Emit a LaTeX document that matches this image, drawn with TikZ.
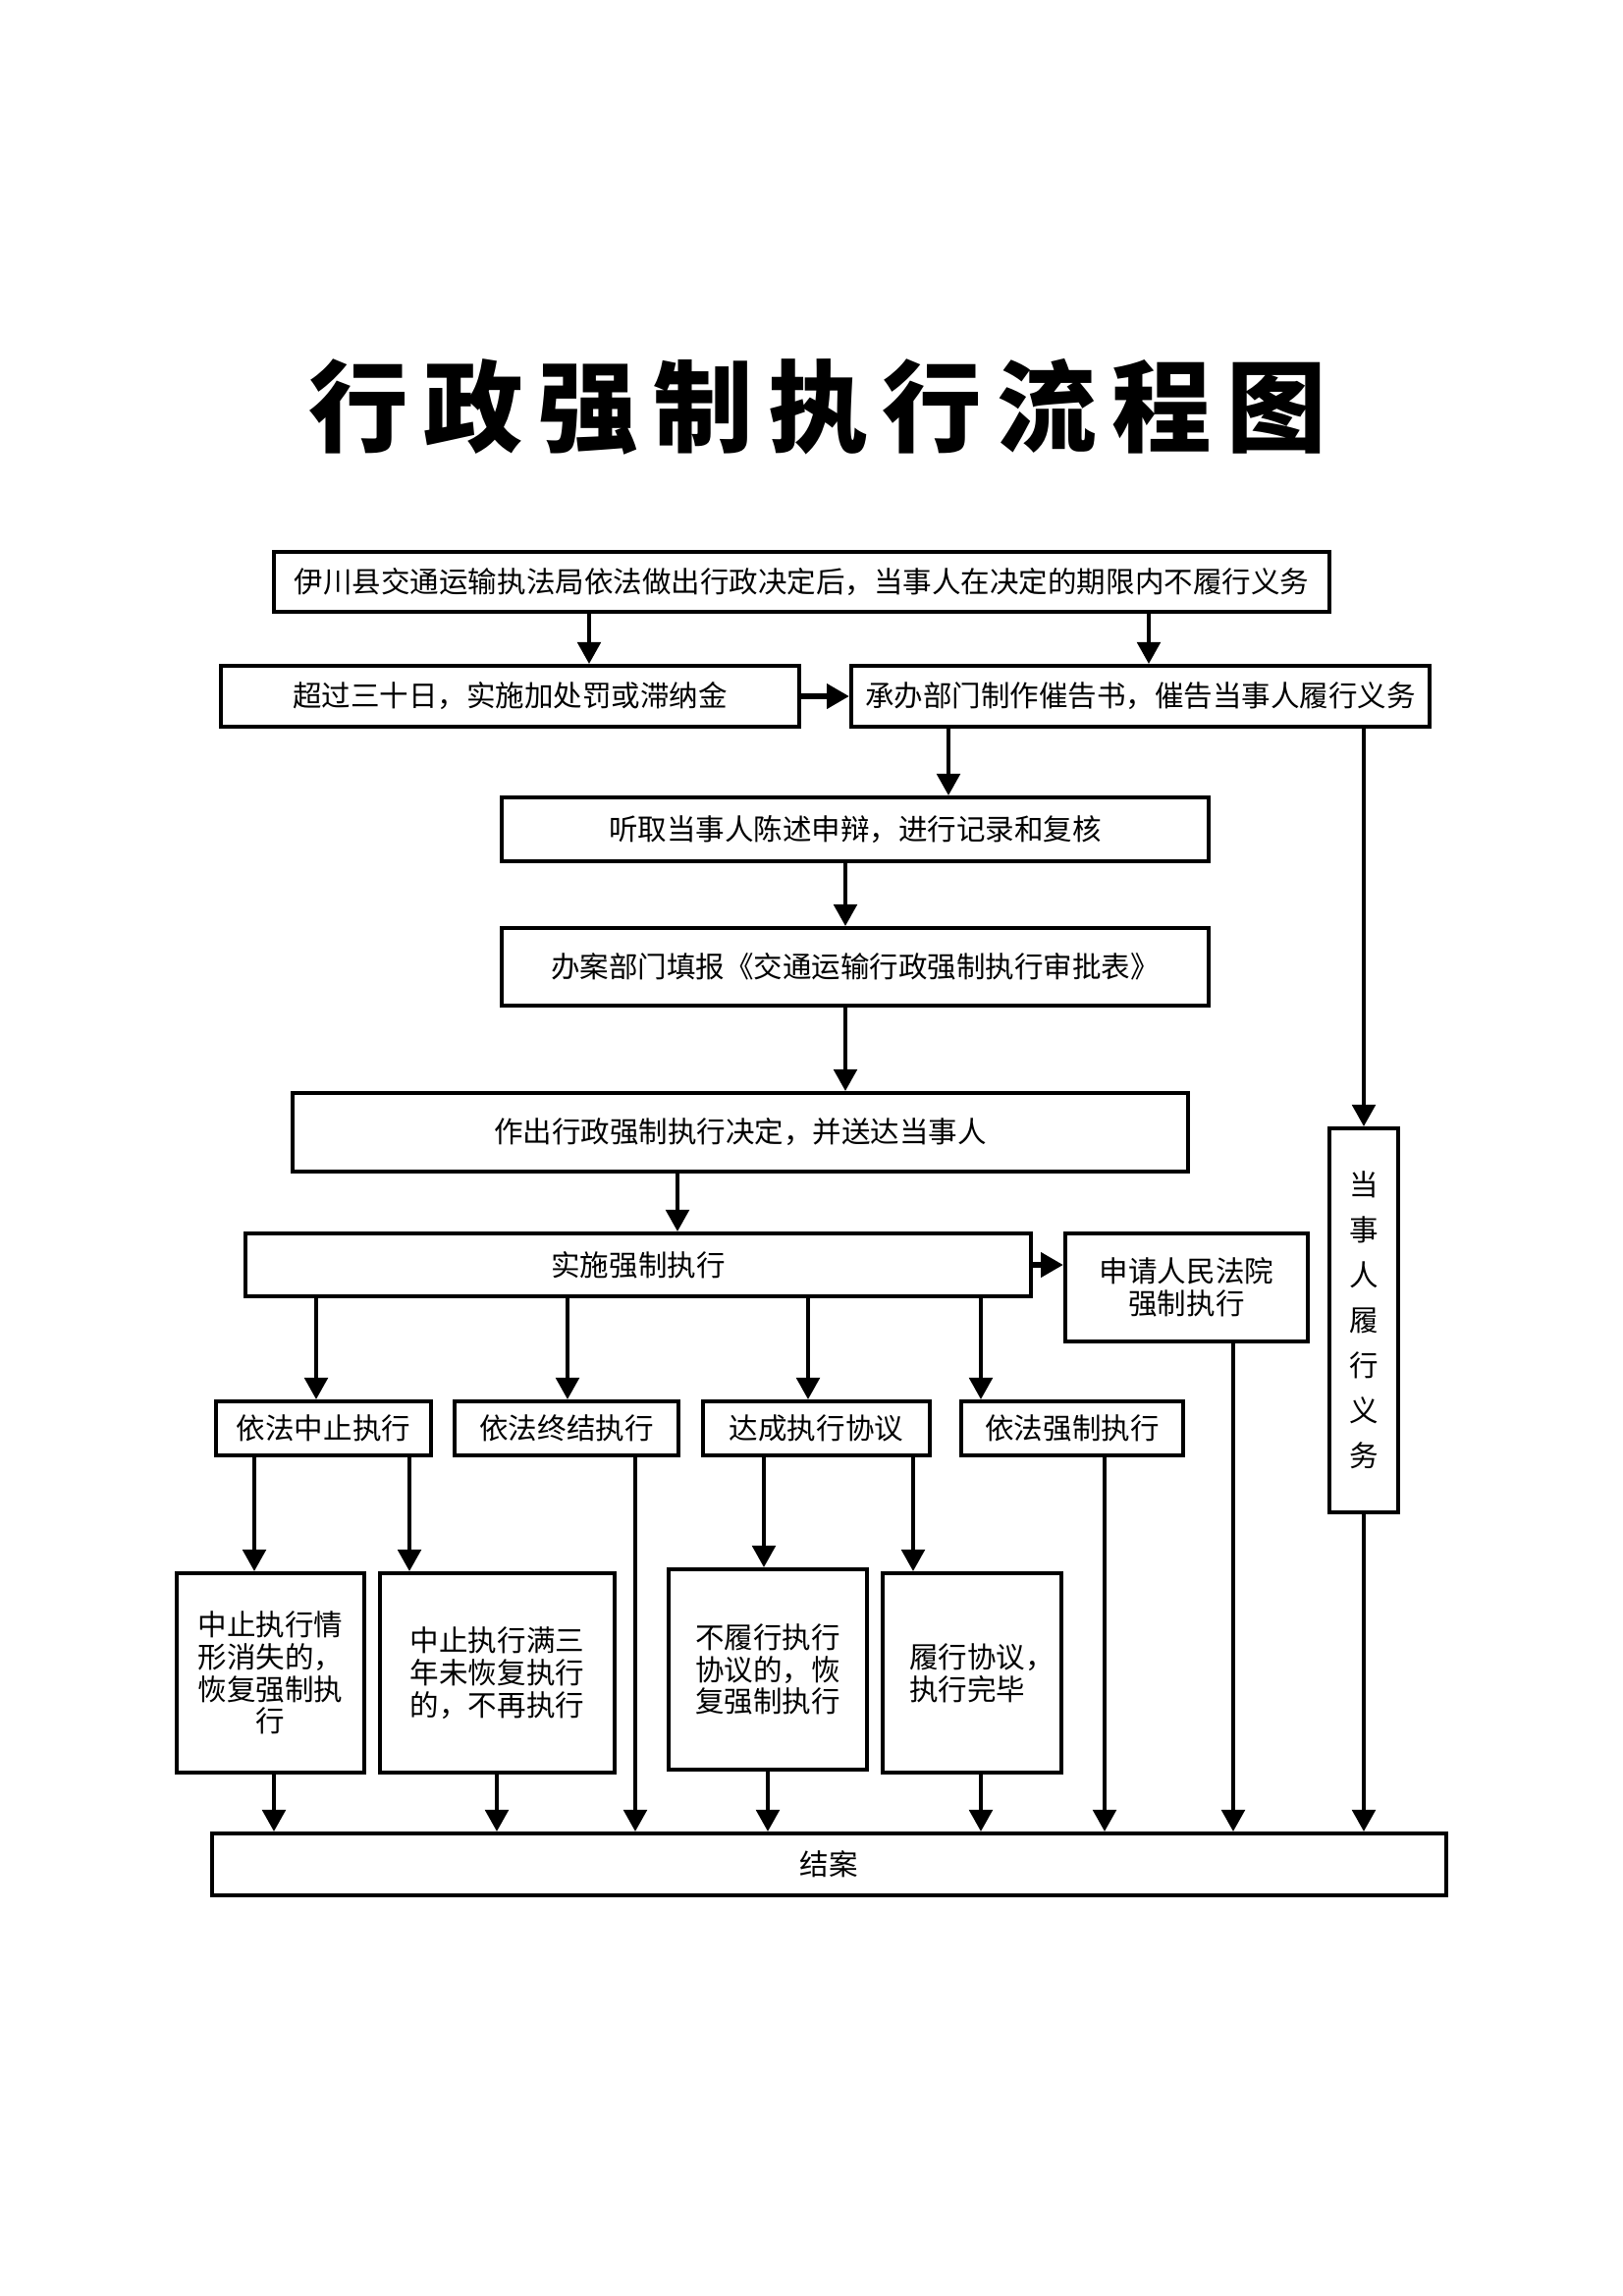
\documentclass[tikz,border=0pt]{standalone}
\usepackage{fontspec}
\setmainfont{Noto Sans CJK SC}
\newfontfamily\cjkfont{Noto Sans CJK SC}
\newfontfamily\titlefont[LetterSpace=15]{Noto Sans CJK SC}
\usetikzlibrary{arrows.meta}
\newcommand\boxfont{\cjkfont\fontsize{8.4pt}{9.3pt}\selectfont}
\newcommand\vfont{\cjkfont\fontsize{8.4pt}{13.1pt}\selectfont}
\begin{document}
\begin{tikzpicture}[x=0.1mm,y=-0.1mm,
  box/.style={draw, line width=1.2pt, inner sep=0pt, align=center, font=\boxfont},
  arr/.style={line width=0.9pt, -{Triangle[width=6.8pt,length=6.3pt]}},
  thickarr/.style={line width=1.5pt, -{Triangle[width=7pt,length=6.5pt]}}]
\useasboundingbox (0,0) rectangle (1653,2338);
\node[font=\titlefont\bfseries\fontsize{28.9pt}{30pt}\selectfont] (title) at (833,414) {行政强制执行流程图};

\node[box, minimum width=107.5mm, minimum height=6.1mm] (top) at (816.5,592.5) {伊川县交通运输执法局依法做出行政决定后，当事人在决定的期限内不履行义务};
\node[box, minimum width=58.9mm, minimum height=6.2mm] (fine) at (519.5,709) {超过三十日，实施加处罚或滞纳金};
\node[box, minimum width=58.9mm, minimum height=6.2mm] (cuigao) at (1161.5,709) {承办部门制作催告书，催告当事人履行义务};
\node[box, minimum width=72mm, minimum height=6.5mm] (tingqu) at (871,844.5) {听取当事人陈述申辩，进行记录和复核};
\node[box, minimum width=72mm, minimum height=7.9mm] (tianbao) at (871,984.5) {办案部门填报《交通运输行政强制执行审批表》};
\node[box, minimum width=91.2mm, minimum height=8mm] (jueding) at (754,1153) {作出行政强制执行决定，并送达当事人};
\node[box, minimum width=80mm, minimum height=6.4mm] (shishi) at (650,1288) {实施强制执行};
\node[box, minimum width=24.7mm, minimum height=11mm] (court) at (1208.5,1311) {申请人民法院\\强制执行};
\node[box, minimum width=7mm, minimum height=39.1mm, font=\vfont] (vbox) at (1389,1344.5) {当\\事\\人\\履\\行\\义\\务};

\node[box, minimum width=21.9mm, minimum height=5.5mm] (b1) at (329.5,1454.5) {依法中止执行};
\node[box, minimum width=22.8mm, minimum height=5.5mm] (b2) at (577,1454.5) {依法终结执行};
\node[box, minimum width=23.1mm, minimum height=5.5mm] (b3) at (831.5,1454.5) {达成执行协议};
\node[box, minimum width=22.6mm, minimum height=5.5mm] (b4) at (1092,1454.5) {依法强制执行};

\node[box, minimum width=19.1mm, minimum height=20.3mm] (A) at (275.5,1703.5) {中止执行情\\形消失的，\\恢复强制执\\行};
\node[box, minimum width=23.9mm, minimum height=20.3mm] (B) at (506.5,1703.5) {中止执行满三\\年未恢复执行\\的，不再执行};
\node[box, minimum width=20.2mm, minimum height=20.4mm] (C) at (782,1700) {不履行执行\\协议的，恢\\复强制执行};
\node[box, minimum width=18.2mm, minimum height=20.3mm, align=left] (D) at (990,1703.5) {\hspace*{2mm}履行协议，\\\hspace*{2mm}执行完毕};

\node[box, minimum width=125.7mm, minimum height=6.3mm] (end) at (844.5,1898.5) {结案};

% arrows
\draw[arr] (top.south -| 600,0) -- (fine.north -| 600,0);
\draw[arr] (top.south -| 1170,0) -- (cuigao.north -| 1170,0);
\draw[thickarr] (fine.east) -- (cuigao.west);
\draw[arr] (cuigao.south -| 966,0) -- (tingqu.north -| 966,0);
\draw[arr] (cuigao.south -| vbox.north) -- (vbox.north);
\draw[arr] (tingqu.south -| 861,0) -- (tianbao.north -| 861,0);
\draw[arr] (tianbao.south -| 861,0) -- (jueding.north -| 861,0);
\draw[arr] (jueding.south -| 690,0) -- (shishi.north -| 690,0);
\draw[thickarr] (shishi.east) -- (shishi.east -| court.west);

\draw[arr] (shishi.south -| 322,0) -- (b1.north -| 322,0);
\draw[arr] (shishi.south -| 578,0) -- (b2.north -| 578,0);
\draw[arr] (shishi.south -| 823,0) -- (b3.north -| 823,0);
\draw[arr] (shishi.south -| 999,0) -- (b4.north -| 999,0);

\draw[arr] (b1.south -| 259,0) -- (A.north -| 259,0);
\draw[arr] (b1.south -| 417,0) -- (B.north -| 417,0);
\draw[arr] (b2.south -| 647,0) -- (end.north -| 647,0);
\draw[arr] (b3.south -| 778,0) -- (C.north -| 778,0);
\draw[arr] (b3.south -| 930,0) -- (D.north -| 930,0);
\draw[arr] (b4.south -| 1125,0) -- (end.north -| 1125,0);
\draw[arr] (court.south -| 1256,0) -- (end.north -| 1256,0);
\draw[arr] (vbox.south) -- (end.north -| vbox.south);

\draw[arr] (A.south -| 279,0) -- (end.north -| 279,0);
\draw[arr] (B.south -| 506,0) -- (end.north -| 506,0);
\draw[arr] (C.south -| 782,0) -- (end.north -| 782,0);
\draw[arr] (D.south -| 999,0) -- (end.north -| 999,0);
\end{tikzpicture}
\end{document}
